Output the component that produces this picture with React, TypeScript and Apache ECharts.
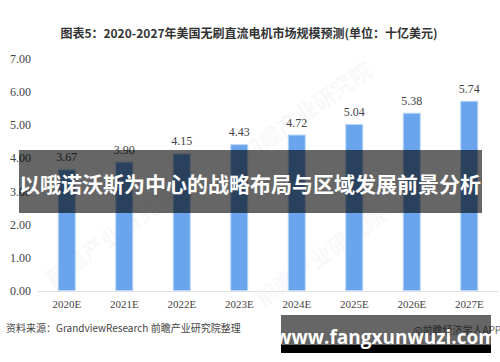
import React, { useEffect, useRef } from "react";
import * as echarts from "echarts";

const categories = ["2020E", "2021E", "2022E", "2023E", "2024E", "2025E", "2026E", "2027E"];
const values = [3.67, 3.9, 4.15, 4.43, 4.72, 5.04, 5.38, 5.74];
const yTicks = { min: 0, max: 7, interval: 1 };

const titleText = "图表5：2020-2027年美国无刷直流电机市场规模预测(单位：十亿美元)";
const sourceText = "资料来源：GrandviewResearch 前瞻产业研究院整理";
const bannerText = "以哦诺沃斯为中心的战略布局与区域发展前景分析";
const siteText = "www.fangxunwuzi.com";
const appText = "@前瞻经济学人APP";
const watermarkText = "前瞻产业研究院";

const watermarkSpots = [
  [110, 235],
  [305, 110],
  [320, 255],
];

export default function App() {
  const ref = useRef<HTMLDivElement>(null);
  useEffect(() => {
    if (!ref.current) return;
    const chart = echarts.init(ref.current, null, { renderer: "svg" });
    const serif = "'Liberation Serif', 'Times New Roman', serif";
    const cjk = "'Noto Sans CJK SC', 'Noto Sans', sans-serif";
    chart.setOption({
      animation: false,
      backgroundColor: "#ffffff",
      grid: { left: 38, right: 2, top: 59, bottom: 71, containLabel: false },
      xAxis: {
        type: "category",
        data: categories,
        axisLine: { show: true, lineStyle: { color: "#e3e3e3", width: 1 } },
        axisTick: { show: false },
        axisLabel: { color: "#444", fontFamily: serif, fontSize: 11, margin: 7 },
      },
      yAxis: {
        type: "value",
        min: yTicks.min,
        max: yTicks.max,
        interval: yTicks.interval,
        axisLine: { show: false },
        axisTick: { show: false },
        splitLine: { show: false },
        axisLabel: {
          color: "#444",
          fontFamily: serif,
          fontSize: 12,
          margin: 7,
          formatter: (v: number) => v.toFixed(2),
        },
      },
      graphic: [
        ...watermarkSpots.map(([x, y]) => ({
          type: "text",
          x,
          y,
          rotation: (35 * Math.PI) / 180,
          z: 0,
          silent: true,
          style: {
            text: watermarkText,
            fill: "rgba(200,205,215,0.12)",
            font: `bold 22px ${cjk}`,
            textAlign: "center",
            textVerticalAlign: "middle",
          },
        })),
        {
          type: "text",
          x: 249,
          y: 32,
          style: {
            text: titleText,
            fill: "#333",
            font: `bold 12px ${cjk}`,
            textAlign: "center",
            textVerticalAlign: "middle",
          },
        },
        {
          type: "text",
          x: 6,
          y: 327,
          style: {
            text: sourceText,
            fill: "#444",
            font: `10px ${cjk}`,
            textAlign: "left",
            textVerticalAlign: "middle",
          },
        },
        {
          type: "text",
          x: 413,
          y: 329,
          z: 50,
          style: {
            text: appText,
            fill: "#666",
            font: `10px ${cjk}`,
            textAlign: "left",
            textVerticalAlign: "middle",
          },
        },
        {
          type: "rect",
          z: 100,
          shape: { x: 19, y: 150, width: 463, height: 63 },
          style: { fill: "rgba(0,0,0,0.6)" },
        },
        {
          type: "text",
          z: 101,
          x: 250,
          y: 183,
          style: {
            text: bannerText,
            fill: "#ffffff",
            font: `bold 21px ${cjk}`,
            textAlign: "center",
            textVerticalAlign: "middle",
          },
        },
        {
          type: "rect",
          z: 100,
          shape: { x: 281, y: 315, width: 210, height: 30 },
          style: { fill: "rgba(0,0,0,0.6)" },
        },
        {
          type: "rect",
          z: 100,
          shape: { x: 281, y: 345, width: 210, height: 8 },
          style: { fill: "#000000" },
        },
        {
          type: "text",
          z: 101,
          x: 386,
          y: 337,
          style: {
            text: siteText,
            fill: "#ffffff",
            font: `bold 19px 'Open Sans', 'Noto Sans', sans-serif`,
            textAlign: "center",
            textVerticalAlign: "middle",
          },
        },
      ],
      series: [
        {
          type: "bar",
          data: values,
          barWidth: 18,
          z: 10,
          itemStyle: { color: "#6aa4ec", borderColor: "#b9d5f7", borderWidth: 1 },
          label: {
            show: true,
            position: "top",
            distance: 6,
            color: "#444",
            fontFamily: serif,
            fontSize: 12,
            formatter: (p: any) => p.value.toFixed(2),
          },
        },
      ],
    });
    return () => chart.dispose();
  }, []);
  return (
    <div
      ref={ref}
      style={{ position: "fixed", left: 0, top: 0, width: 500, height: 362 }}
    />
  );
}
